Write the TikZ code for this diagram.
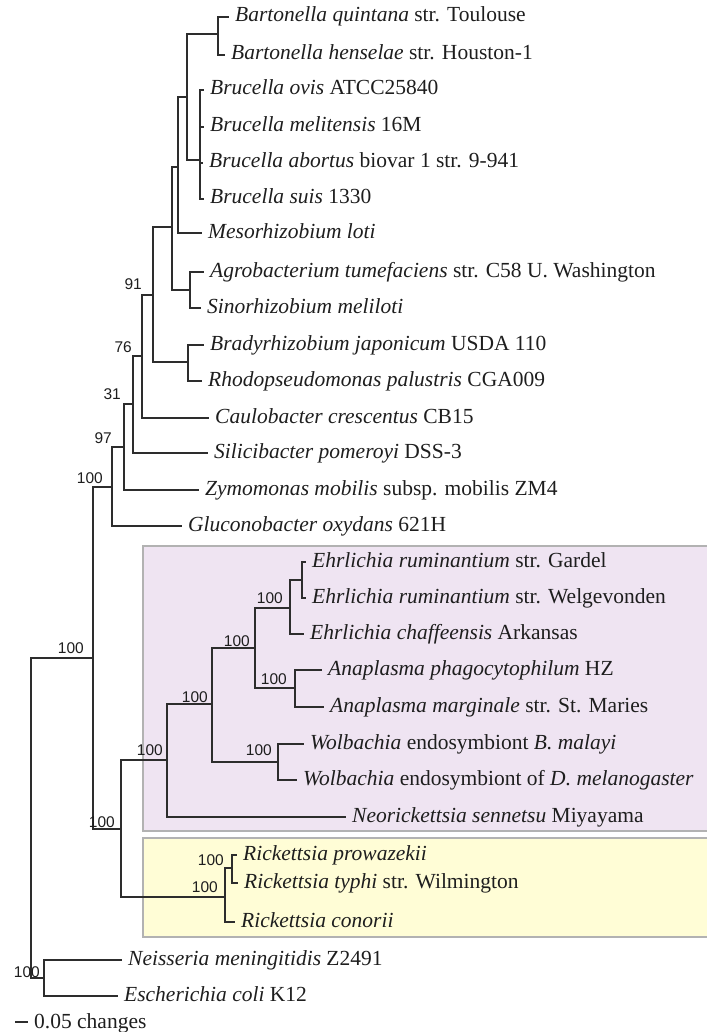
\documentclass[tikz,border=0pt]{standalone}
\usepackage{fontspec}
\setmainfont{Liberation Serif}
\newfontfamily\supfont{Liberation Sans}
\definecolor{treecol}{RGB}{45,45,45}
\definecolor{txtcol}{RGB}{30,30,30}
\definecolor{purp}{RGB}{239,228,242}
\definecolor{yell}{RGB}{255,253,214}
\definecolor{boxgray}{RGB}{178,178,178}
\begin{document}
\begin{tikzpicture}[x=1pt,y=-1pt,
  br/.style={draw=treecol, line width=1.3pt},
  leaf/.style={anchor=west, inner xsep=6pt, inner ysep=0pt, text height=15pt, text depth=5pt, text=txtcol, font=\fontsize{21.5}{24}\selectfont},
  sup/.style={anchor=base east, inner sep=0pt, text=txtcol, font=\supfont\fontsize{15.5}{18}\selectfont},
  cladebox/.style={draw=boxgray, line width=2.5pt}]
\useasboundingbox (0,0) rectangle (706,1032);
% clade boxes
\filldraw[cladebox, fill=purp] (143,546) rectangle (716,831);
\filldraw[cladebox, fill=yell] (143,838) rectangle (716,937);
% internal nodes
\coordinate (bart) at (218,34);
\coordinate (bruc) at (200,160);
\coordinate (bb) at (187,97);
\coordinate (bbm) at (178,167);
\coordinate (as) at (190,290);
\coordinate (n172) at (172,227);
\coordinate (brh) at (188,362);
\coordinate (n153) at (153,295);
\coordinate (n142) at (142,356);
\coordinate (n133) at (133,404);
\coordinate (n124) at (124,447);
\coordinate (n112) at (112,487);
\coordinate (alpha) at (93,658);
\coordinate (erum) at (302,580);
\coordinate (ehr) at (290,608);
\coordinate (ana) at (295,688);
\coordinate (ea) at (255,648);
\coordinate (wol) at (278,762);
\coordinate (eaw) at (212,704);
\coordinate (anap) at (167,760);
\coordinate (rin) at (232,868);
\coordinate (rick) at (225,897);
\coordinate (rls) at (121,829);
\coordinate (out) at (44,978);
\coordinate (root) at (31,818);
% leaves
\node[leaf] (L1) at (229,17) {\textit{Bartonella quintana} str. Toulouse};
\node[leaf] (L2) at (225,55) {\textit{Bartonella henselae} str. Houston-1};
\node[leaf] (L3) at (204,90) {\textit{Brucella ovis} ATCC25840};
\node[leaf] (L4) at (204,127) {\textit{Brucella melitensis} 16M};
\node[leaf] (L5) at (203,163) {\textit{Brucella abortus} biovar 1 str. 9-941};
\node[leaf] (L6) at (204,199) {\textit{Brucella suis} 1330};
\node[leaf] (L7) at (202,233) {\textit{Mesorhizobium loti}};
\node[leaf] (L8) at (204,272) {\textit{Agrobacterium tumefaciens} str. C58 U. Washington};
\node[leaf] (L9) at (201,308) {\textit{Sinorhizobium meliloti}};
\node[leaf] (L10) at (204,345) {\textit{Bradyrhizobium japonicum} USDA 110};
\node[leaf] (L11) at (202,381) {\textit{Rhodopseudomonas palustris} CGA009};
\node[leaf] (L12) at (209,418) {\textit{Caulobacter crescentus} CB15};
\node[leaf] (L13) at (208,453) {\textit{Silicibacter pomeroyi} DSS-3};
\node[leaf] (L14) at (199,490) {\textit{Zymomonas mobilis} subsp. mobilis ZM4};
\node[leaf] (L15) at (182,526) {\textit{Gluconobacter oxydans} 621H};
\node[leaf] (L16) at (306,562) {\textit{Ehrlichia ruminantium} str. Gardel};
\node[leaf] (L17) at (306,598) {\textit{Ehrlichia ruminantium} str. Welgevonden};
\node[leaf] (L18) at (304,634) {\textit{Ehrlichia chaffeensis} Arkansas};
\node[leaf] (L19) at (322,670) {\textit{Anaplasma phagocytophilum} HZ};
\node[leaf] (L20) at (324,707) {\textit{Anaplasma marginale} str. St. Maries};
\node[leaf] (L21) at (304,744) {\textit{Wolbachia} endosymbiont \textit{B. malayi}};
\node[leaf] (L22) at (297,780) {\textit{Wolbachia} endosymbiont of \textit{D. melanogaster}};
\node[leaf] (L23) at (346,817) {\textit{Neorickettsia sennetsu} Miyayama};
\node[leaf] (L24) at (237,855) {\textit{Rickettsia prowazekii}};
\node[leaf] (L25) at (238,883) {\textit{Rickettsia typhi} str. Wilmington};
\node[leaf] (L26) at (235,922) {\textit{Rickettsia conorii}};
\node[leaf] (L27) at (122,960) {\textit{Neisseria meningitidis} Z2491};
\node[leaf] (L28) at (118,996) {\textit{Escherichia coli} K12};
% branches
\draw[br] (root) |- (alpha);
\draw[br] (root) |- (out);
\draw[br] (alpha) |- (n112);
\draw[br] (alpha) |- (rls);
\draw[br] (n112) |- (n124);
\draw[br] (n112) |- (L15.west);
\draw[br] (n124) |- (n133);
\draw[br] (n124) |- (L14.west);
\draw[br] (n133) |- (n142);
\draw[br] (n133) |- (L13.west);
\draw[br] (n142) |- (n153);
\draw[br] (n142) |- (L12.west);
\draw[br] (n153) |- (n172);
\draw[br] (n153) |- (brh);
\draw[br] (n172) |- (bbm);
\draw[br] (n172) |- (as);
\draw[br] (bbm) |- (bb);
\draw[br] (bbm) |- (L7.west);
\draw[br] (bb) |- (bart);
\draw[br] (bb) |- (bruc);
\draw[br] (bart) |- (L1.west);
\draw[br] (bart) |- (L2.west);
\draw[br] (bruc) |- (L3.west);
\draw[br] (bruc) |- (L4.west);
\draw[br] (bruc) |- (L5.west);
\draw[br] (bruc) |- (L6.west);
\draw[br] (as) |- (L8.west);
\draw[br] (as) |- (L9.west);
\draw[br] (brh) |- (L10.west);
\draw[br] (brh) |- (L11.west);
\draw[br] (rls) |- (anap);
\draw[br] (rls) |- (rick);
\draw[br] (anap) |- (eaw);
\draw[br] (anap) |- (L23.west);
\draw[br] (eaw) |- (ea);
\draw[br] (eaw) |- (wol);
\draw[br] (ea) |- (ehr);
\draw[br] (ea) |- (ana);
\draw[br] (ehr) |- (erum);
\draw[br] (ehr) |- (L18.west);
\draw[br] (erum) |- (L16.west);
\draw[br] (erum) |- (L17.west);
\draw[br] (ana) |- (L19.west);
\draw[br] (ana) |- (L20.west);
\draw[br] (wol) |- (L21.west);
\draw[br] (wol) |- (L22.west);
\draw[br] (rick) |- (rin);
\draw[br] (rick) |- (L26.west);
\draw[br] (rin) |- (L24.west);
\draw[br] (rin) |- (L25.west);
\draw[br] (out) |- (L27.west);
\draw[br] (out) |- (L28.west);
% support values
\node[sup] (s91) at (142,289) {91};
\node[sup] (s76) at (132,352) {76};
\node[sup] (s31) at (121,399) {31};
\node[sup] (s97) at (112,443) {97};
\node[sup] (s112) at (103,483) {100};
\node[sup] (salpha) at (84,653) {100};
\node[sup] (sehr) at (283,603) {100};
\node[sup] (sea) at (250,646) {100};
\node[sup] (sana) at (287,684) {100};
\node[sup] (seaw) at (208,702) {100};
\node[sup] (sanap) at (163,755) {100};
\node[sup] (swol) at (272,755) {100};
\node[sup] (srls) at (115,827) {100};
\node[sup] (srin) at (224,865) {100};
\node[sup] (srick) at (218,892) {100};
\node[sup] (sroot) at (40,977) {100};
% scale bar
\coordinate (sb1) at (15,1022);
\coordinate (sb2) at (28,1022);
\draw[br] (sb1) -- (sb2);
\node[anchor=base west, inner sep=0pt, text=txtcol, font=\fontsize{21.5}{24}\selectfont] (scale) at (34,1028) {0.05 changes};
\end{tikzpicture}
\end{document}
